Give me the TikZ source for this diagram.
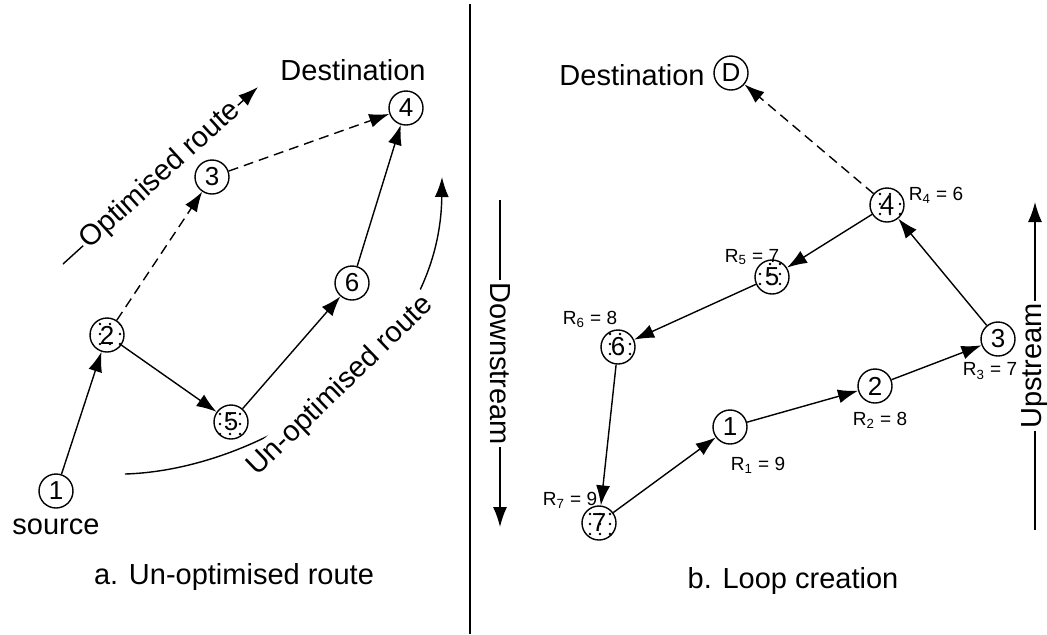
\documentclass[tikz,border=0pt]{standalone}
\usepackage{fontspec}
\setmainfont{Liberation Sans}
\usetikzlibrary{arrows.meta,patterns}

\pgfdeclarepatternformonly{sparse dots}{\pgfqpoint{-1pt}{-1pt}}{\pgfqpoint{1pt}{1pt}}{\pgfqpoint{5pt}{5pt}}%
  {\pgfpathcircle{\pgfpointorigin}{0.65pt}\pgfusepath{fill}}

\tikzset{
  hop/.style={circle, draw, fill=white, minimum size=17pt, inner sep=0pt, font=\fontsize{13}{14}\selectfont},
  busy/.style={hop, pattern=sparse dots},
  link/.style={-{Latex[length=10pt,width=7pt]}},
  shortcut/.style={link, dash pattern=on 5pt off 3pt},
  rval/.style={inner sep=0pt, font=\fontsize{9.5}{11}\selectfont},
  big/.style={inner sep=1pt, font=\fontsize{14.5}{17}\selectfont},
}

\begin{document}
\begin{tikzpicture}[x=0.5pt, y=-0.5pt, line width=0.7pt]
\useasboundingbox (0,0) rectangle (1047,634);

% a. un-optimised route
\begin{scope}
    \node[hop]  (a1) at (56,491)  {1};
    \node[busy] (a2) at (107,335) {2};
    \node[hop]  (a3) at (212,177) {3};
    \node[hop]  (a4) at (406,108) {4};
    \node[busy] (a5) at (231,422) {5};
    \node[hop]  (a6) at (352,283) {6};
\end{scope}

\node[big] (src) at (56,527) {source};
\node[big] (desta) at (353,70) {Destination};

\begin{scope}
    \path [link] (a1) edge (a2);
    \path [link] (a2) edge (a5);
    \path [link] (a5) edge (a6);
    \path [link] (a6) edge (a4);
    \path [shortcut] (a2) edge (a3);
    \path [shortcut] (a3) edge (a4);
\end{scope}

\coordinate (opt0) at (63,264);
\coordinate (opt1) at (258,87);
\draw [link] (opt0) -- node[big, sloped, fill=white] (optlbl) {Optimised route} (opt1);

\coordinate (un0) at (125,474);
\coordinate (un1) at (442,177);
\draw [link] (un0) .. controls (260,470) and (440,360) .. (un1)
    node[big, pos=0.52, rotate=44, fill=white] (unlbl) {Un-optimised route};

\node[big] (capa) at (234,577) {a. Un-optimised route};

% separator
\draw (470,4) -- (470,634);

% b. loop creation
\begin{scope}
    \node[hop]  (bD) at (731,73)  {D};
    \node[hop]  (b1) at (730,427) {1};
    \node[hop]  (b2) at (875,386) {2};
    \node[hop]  (b3) at (998,339) {3};
    \node[busy] (b4) at (887,205) {4};
    \node[busy] (b5) at (772,277) {5};
    \node[busy] (b6) at (618,347) {6};
    \node[busy] (b7) at (599,523) {7};
\end{scope}

\node[big] (destb) at (632,75) {Destination};

\node[rval] (r1) at (758,465) {R\textsubscript{1} = 9};
\node[rval] (r2) at (880,420) {R\textsubscript{2} = 8};
\node[rval] (r3) at (990,371) {R\textsubscript{3} = 7};
\node[rval] (r4) at (936,195) {R\textsubscript{4} = 6};
\node[rval] (r5) at (752,257) {R\textsubscript{5} = 7};
\node[rval] (r6) at (590,319) {R\textsubscript{6} = 8};
\node[rval] (r7) at (570,500) {R\textsubscript{7} = 9};

\begin{scope}
    \path [link] (b7) edge (b1);
    \path [link] (b1) edge (b2);
    \path [link] (b2) edge (b3);
    \path [link] (b3) edge (b4);
    \path [link] (b4) edge (b5);
    \path [link] (b5) edge (b6);
    \path [link] (b6) edge (b7);
    \path [shortcut] (b4) edge (bD);
\end{scope}

\coordinate (down0) at (500,200);
\coordinate (down1) at (500,527);
\draw [link] (down0) -- node[big, sloped, fill=white] (downlbl) {Downstream} (down1);

\coordinate (up0) at (1035,530);
\coordinate (up1) at (1035,202);
\draw [link] (up0) -- node[big, sloped, fill=white] (uplbl) {Upstream} (up1);

\node[big] (capb) at (793,581) {b. Loop creation};
\end{tikzpicture}
\end{document}
